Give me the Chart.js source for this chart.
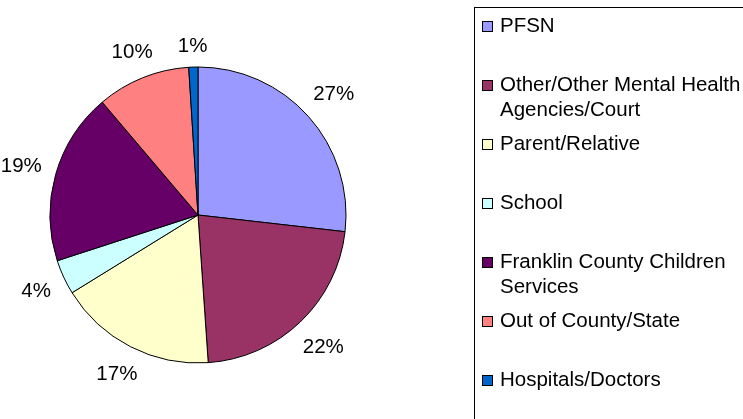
<!DOCTYPE html>
<html>
<head>
<meta charset="utf-8">
<script src="https://cdn.jsdelivr.net/npm/chart.js@4"></script>
<style>
    html, body { margin: 0; padding: 0; background: #fff; }
    #referral-chart { display: block; }
</style>
</head>
<body>
<canvas id="referral-chart" width="743" height="419"></canvas>
<script>
// 데이터
const categories = [
    'PFSN',
    ['Other/Other Mental Health', 'Agencies/Court'],
    'Parent/Relative',
    'School',
    ['Franklin County Children', 'Services'],
    'Out of County/State',
    'Hospitals/Doctors'
];
const shares = [26.8, 22.1, 17.3, 3.8, 18.8, 10.2, 1.0];
const sliceColors = ['#9999FF', '#993366', '#FFFFCC', '#CCFFFF', '#660066', '#FF8080', '#0066CC'];

const FONT = '20.5px "Liberation Sans", Arial, sans-serif';

/**
 * 퍼센트 라벨 (조각 바깥)
 */
const outsideLabels = {
    id: 'outsideLabels',
    afterDatasetsDraw(chart) {
        const ctx = chart.ctx;
        const meta = chart.getDatasetMeta(0);
        ctx.save();
        ctx.font = FONT;
        ctx.fillStyle = '#000';
        ctx.textAlign = 'center';
        ctx.textBaseline = 'middle';
        meta.data.forEach((arc, i) => {
            const text = Math.round(shares[i]) + '%';
            const mid = (arc.startAngle + arc.endAngle) / 2;
            const cos = Math.cos(mid);
            const sin = Math.sin(mid);
            // 상자 가장자리가 원에서 일정 거리에 오도록
            const halfW = ctx.measureText(text).width / 2;
            const dist = arc.outerRadius + 14 + Math.abs(cos) * halfW + Math.abs(sin) * 7;
            ctx.fillText(text, arc.x + cos * dist, arc.y + sin * dist + 1);
        });
        ctx.restore();
    }
};

/**
 * 범례 (오른쪽 상자)
 */
const boxLegend = {
    id: 'boxLegend',
    afterDraw(chart) {
        const ctx = chart.ctx;
        const left = 474;
        const top = 7;
        ctx.save();
        ctx.strokeStyle = '#000';
        ctx.lineWidth = 1;
        ctx.strokeRect(left + 0.5, top + 0.5, 400, 500);

        ctx.font = FONT;
        ctx.textAlign = 'left';
        ctx.textBaseline = 'alphabetic';
        chart.data.labels.forEach((label, i) => {
            const lines = Array.isArray(label) ? label : [label];
            const baseline = 32 + i * 59;
            // 색상 상자
            ctx.fillStyle = sliceColors[i];
            ctx.fillRect(482, baseline - 11, 10, 10);
            ctx.strokeStyle = '#000';
            ctx.strokeRect(482.5, baseline - 10.5, 10, 10);
            // 라벨
            ctx.fillStyle = '#000';
            lines.forEach((line, j) => {
                ctx.fillText(line, 500, baseline + j * 25);
            });
        });
        ctx.restore();
    }
};

new Chart(document.getElementById('referral-chart').getContext('2d'), {
    type: 'pie',
    data: {
        labels: categories,
        datasets: [{
            data: shares,
            backgroundColor: sliceColors,
            borderColor: '#000',
            borderWidth: 1,
            radius: 148,
        }]
    },
    options: {
        responsive: false,
        animation: false,
        devicePixelRatio: 1,
        layout: {
            padding: { left: 40, right: 387, top: 50, bottom: 39 }
        },
        plugins: {
            legend: { display: false },
            tooltip: { enabled: false },
        }
    },
    plugins: [outsideLabels, boxLegend]
});
</script>
</body>
</html>
